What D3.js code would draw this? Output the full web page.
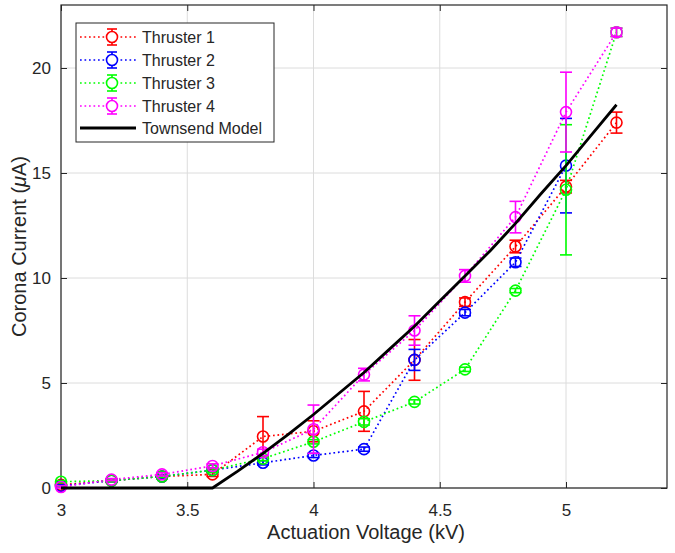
<!DOCTYPE html>
<html><head><meta charset="utf-8">
<script src="https://cdn.jsdelivr.net/npm/d3@7"></script>
<style>body{margin:0;background:#fff}svg{display:block}text{font-family:"Liberation Sans",Arial,sans-serif;fill:#262626}</style>
</head><body><svg id="c" width="675" height="553"></svg>
<script>
const voltages = [3.0, 3.2, 3.4, 3.6, 3.8, 4.0, 4.2, 4.4, 4.6, 4.8, 5.0, 5.2];
const thruster1 = [0.15, 0.35, 0.55, 0.65, 2.45, 2.7, 3.65, 6.1, 8.85, 11.5, 14.35, 17.4];
const thruster1Err = [0.05, 0.05, 0.08, 0.1, 0.95, 0.5, 0.95, 0.97, 0.2, 0.3, 0.3, 0.5];
const thruster2 = [0.1, 0.35, 0.55, 0.85, 1.2, 1.55, 1.85, 6.1, 8.35, 10.75, 15.35, null];
const thruster2Err = [0.05, 0.05, 0.08, 0.1, 0.1, 0.1, 0.1, 0.5, 0.15, 0.2, 2.25, null];
const thruster3 = [0.3, 0.35, 0.55, 0.85, 1.4, 2.2, 3.15, 4.1, 5.65, 9.4, 14.2, 21.7];
const thruster3Err = [0.05, 0.05, 0.05, 0.1, 0.1, 0.1, 0.15, 0.1, 0.1, 0.1, 3.1, 0.2];
const thruster4 = [0.05, 0.4, 0.65, 1.05, 1.7, 2.8, 5.4, 7.5, 10.1, 12.9, 17.9, 21.7];
const thruster4Err = [0.05, 0.05, 0.08, 0.1, 0.15, 1.15, 0.3, 0.7, 0.3, 0.75, 1.9, 0.2];
const modelV = [3.0, 3.6, 3.7, 3.8, 3.9, 4.0, 4.1, 4.2, 4.3, 4.4, 4.5, 4.6, 4.7, 4.8, 4.9, 5.0, 5.1, 5.2];
const modelI = [0, 0, 0.8, 1.65, 2.55, 3.5, 4.5, 5.5, 6.6, 7.7, 8.9, 10.1, 11.3, 12.6, 14.0, 15.35, 16.8, 18.25];
const seriesNames = ["Thruster 1", "Thruster 2", "Thruster 3", "Thruster 4"];
const seriesColors = ["#ff0000", "#0000ff", "#00ff00", "#ff00ff"];
const xTicks = [3, 3.5, 4, 4.5, 5];
const yTicks = [0, 5, 10, 15, 20];

const series = [
  {name: seriesNames[0], color: seriesColors[0], y: thruster1, e: thruster1Err},
  {name: seriesNames[1], color: seriesColors[1], y: thruster2, e: thruster2Err},
  {name: seriesNames[2], color: seriesColors[2], y: thruster3, e: thruster3Err},
  {name: seriesNames[3], color: seriesColors[3], y: thruster4, e: thruster4Err}
];

const L = 61, R = 667, T = 5, B = 488;
const svg = d3.select("#c");
const x = d3.scaleLinear().domain([3, 5.4]).range([L, R]);
const y = d3.scaleLinear().domain([0, 23]).range([B, T]);

// grid
const g = svg.append("g");
g.selectAll(".gx").data(xTicks).join("line")
  .attr("x1", d => x(d)).attr("x2", d => x(d)).attr("y1", T).attr("y2", B)
  .attr("stroke", "#dcdcdc").attr("stroke-width", 1);
g.selectAll(".gy").data(yTicks).join("line")
  .attr("y1", d => y(d)).attr("y2", d => y(d)).attr("x1", L).attr("x2", R)
  .attr("stroke", "#dcdcdc").attr("stroke-width", 1);

// axes
const fmt = d => String(d);
const xAx = svg.append("g").attr("transform", `translate(0,${B})`)
  .call(d3.axisBottom(x).tickValues(xTicks).tickFormat(fmt).tickSizeInner(-6).tickSizeOuter(0).tickPadding(16));
const xAxT = svg.append("g").attr("transform", `translate(0,${T})`)
  .call(d3.axisTop(x).tickValues(xTicks).tickFormat("").tickSizeInner(-6).tickSizeOuter(0));
const yAx = svg.append("g").attr("transform", `translate(${L},0)`)
  .call(d3.axisLeft(y).tickValues(yTicks).tickFormat(fmt).tickSizeInner(-6).tickSizeOuter(0).tickPadding(10));
const yAxR = svg.append("g").attr("transform", `translate(${R},0)`)
  .call(d3.axisRight(y).tickValues(yTicks).tickFormat("").tickSizeInner(-6).tickSizeOuter(0));
[xAx, xAxT, yAx, yAxR].forEach(a => {
  a.select(".domain").remove();
  a.selectAll(".tick line").attr("stroke", "#262626");
  a.selectAll("text").style("font-family", '"Liberation Sans",Arial,sans-serif').style("font-size", "17px").attr("fill", "#262626");
});
svg.append("rect").attr("x", L).attr("y", T).attr("width", R - L).attr("height", B - T)
  .attr("fill", "none").attr("stroke", "#262626").attr("stroke-width", 1.2);

// series
const line = d3.line().defined(d => d[1] != null).x(d => x(d[0])).y(d => y(d[1]));
const capW = 6;
series.forEach(s => {
  const pts = voltages.map((v, i) => [v, s.y[i], s.e[i]]).filter(d => d[1] != null);
  const sg = svg.append("g");
  sg.append("path").attr("d", line(pts)).attr("fill", "none").attr("stroke", s.color)
    .attr("stroke-width", 1.7).attr("stroke-dasharray", "1.7 2.8");
  const eb = sg.selectAll(".eb").data(pts).join("g").attr("stroke", s.color).attr("stroke-width", 1.6);
  eb.append("line").attr("x1", d => x(d[0])).attr("x2", d => x(d[0])).attr("y1", d => y(d[1] - d[2])).attr("y2", d => y(d[1] + d[2]));
  eb.append("line").attr("x1", d => x(d[0]) - capW).attr("x2", d => x(d[0]) + capW).attr("y1", d => y(d[1] + d[2])).attr("y2", d => y(d[1] + d[2]));
  eb.append("line").attr("x1", d => x(d[0]) - capW).attr("x2", d => x(d[0]) + capW).attr("y1", d => y(d[1] - d[2])).attr("y2", d => y(d[1] - d[2]));
  sg.selectAll("circle").data(pts).join("circle").attr("cx", d => x(d[0])).attr("cy", d => y(d[1])).attr("r", 5.5)
    .attr("fill", "none").attr("stroke", s.color).attr("stroke-width", 1.6);
});

// model
svg.append("path").attr("d", line(modelV.map((v, i) => [v, modelI[i]]))).attr("fill", "none")
  .attr("stroke", "#000").attr("stroke-width", 2.8);

// legend
const lg = svg.append("g");
lg.append("rect").attr("x", 76).attr("y", 23).attr("width", 198).attr("height", 119)
  .attr("fill", "#fff").attr("stroke", "#262626").attr("stroke-width", 1);
const rowY = [37, 60, 83, 106, 128];
series.forEach((s, i) => {
  const yy = rowY[i];
  lg.append("line").attr("x1", 80).attr("x2", 136).attr("y1", yy).attr("y2", yy)
    .attr("stroke", s.color).attr("stroke-width", 1.7).attr("stroke-dasharray", "1.7 2.8");
  lg.append("line").attr("x1", 112).attr("x2", 112).attr("y1", yy - 8).attr("y2", yy + 8).attr("stroke", s.color).attr("stroke-width", 1.6);
  lg.append("line").attr("x1", 107).attr("x2", 117).attr("y1", yy - 8).attr("y2", yy - 8).attr("stroke", s.color).attr("stroke-width", 1.6);
  lg.append("line").attr("x1", 107).attr("x2", 117).attr("y1", yy + 8).attr("y2", yy + 8).attr("stroke", s.color).attr("stroke-width", 1.6);
  lg.append("circle").attr("cx", 112).attr("cy", yy).attr("r", 5.5).attr("fill", "#fff").attr("stroke", s.color).attr("stroke-width", 1.6);
  lg.append("text").attr("x", 142).attr("y", yy + 6).style("font-size", "16px").text(s.name);
});
lg.append("line").attr("x1", 80).attr("x2", 136).attr("y1", rowY[4]).attr("y2", rowY[4]).attr("stroke", "#000").attr("stroke-width", 2.8);
lg.append("text").attr("x", 142).attr("y", rowY[4] + 6).style("font-size", "16px").text("Townsend Model");

// axis labels
svg.append("text").attr("x", (L + R) / 2 + 2).attr("y", 539).attr("text-anchor", "middle").style("font-size", "20px").text("Actuation Voltage (kV)");
const yl = svg.append("text").attr("transform", `translate(26,${(T + B) / 2}) rotate(-90)`).attr("text-anchor", "middle").style("font-size", "20px");
yl.append("tspan").text("Corona Current (");
yl.append("tspan").style("font-style", "italic").text("μ");
yl.append("tspan").text("A)");
</script></body></html>
